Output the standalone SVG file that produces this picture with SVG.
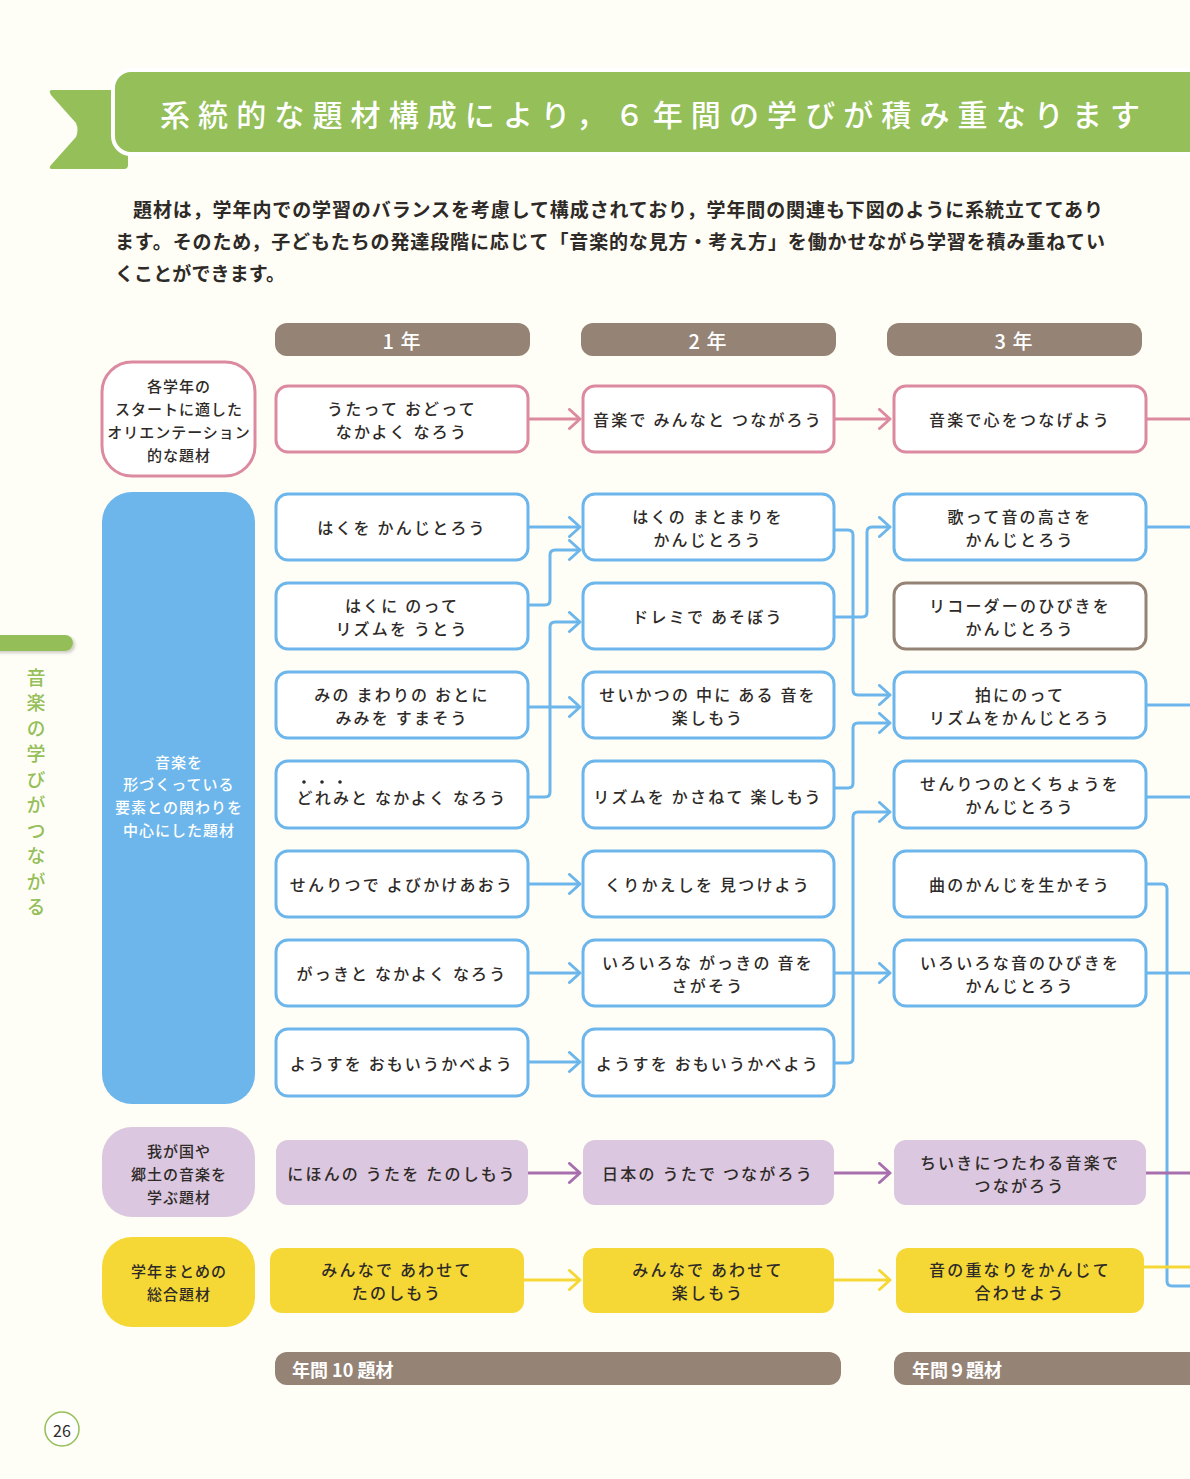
<svg xmlns="http://www.w3.org/2000/svg" width="1190" height="1479" viewBox="0 0 1190 1479">
<defs>
<style>
text{font-family:"Noto Sans CJK JP","Noto Sans",sans-serif;}
.nt{font-size:16px;fill:#2e2a27;letter-spacing:2.2px;text-anchor:middle;dominant-baseline:central;font-weight:500;}
.lt{font-size:15px;fill:#2e2a27;letter-spacing:1px;text-anchor:middle;dominant-baseline:central;font-weight:500;}
.lw{font-size:15px;fill:#ffffff;letter-spacing:1px;text-anchor:middle;dominant-baseline:central;font-weight:500;}
.hd{font-size:20px;fill:#ffffff;text-anchor:middle;dominant-baseline:central;letter-spacing:1px;font-weight:500;}
.bl{fill:#ffffff;stroke:#6cb6eb;stroke-width:3;}
.pk{fill:#ffffff;stroke:#dc8aa0;stroke-width:3;}
.br{fill:#ffffff;stroke:#958376;stroke-width:3;}
.pu{fill:#dbc7df;}
.ye{fill:#f5d836;}
.cb{fill:none;stroke:#6cb6eb;stroke-width:3;marker-end:url(#ab);}
.cb0{fill:none;stroke:#6cb6eb;stroke-width:3;}
.cp{fill:none;stroke:#dc8aa0;stroke-width:3;}
.cu{fill:none;stroke:#a76fae;stroke-width:3;}
.cy{fill:none;stroke:#f5d836;stroke-width:3;}
</style>
<marker id="ab" markerUnits="userSpaceOnUse" markerWidth="16" markerHeight="24" refX="12" refY="11" orient="auto"><path d="M1.5,1.5 L12,11 L1.5,20.5" fill="none" stroke="#6cb6eb" stroke-width="3" stroke-linecap="round" stroke-linejoin="round"/></marker>
<marker id="ap" markerUnits="userSpaceOnUse" markerWidth="16" markerHeight="24" refX="12" refY="11" orient="auto"><path d="M1.5,1.5 L12,11 L1.5,20.5" fill="none" stroke="#dc8aa0" stroke-width="3" stroke-linecap="round" stroke-linejoin="round"/></marker>
<marker id="au" markerUnits="userSpaceOnUse" markerWidth="16" markerHeight="24" refX="12" refY="11" orient="auto"><path d="M1.5,1.5 L12,11 L1.5,20.5" fill="none" stroke="#a76fae" stroke-width="3" stroke-linecap="round" stroke-linejoin="round"/></marker>
<marker id="ay" markerUnits="userSpaceOnUse" markerWidth="16" markerHeight="24" refX="12" refY="11" orient="auto"><path d="M1.5,1.5 L12,11 L1.5,20.5" fill="none" stroke="#f5d836" stroke-width="3" stroke-linecap="round" stroke-linejoin="round"/></marker>
<filter id="sh" x="-10%" y="-50%" width="130%" height="250%"><feDropShadow dx="2" dy="2" stdDeviation="1.5" flood-color="#000" flood-opacity="0.2"/></filter>
</defs>
<rect x="0" y="0" width="1190" height="1479" fill="#fffef6"/>

<!-- title banner -->
<g id="title">
<path d="M52,90 H128 V165 Q128,169 124,169 H52 Q48,169 51,165 L76,137 Q79,130 76,123 L51,95 Q48,90 52,90 Z" fill="#94bf59"/>
<rect x="113" y="70" width="1100" height="84" rx="18" fill="#94bf59" stroke="#ffffff" stroke-width="4"/>
<text x="160" y="113" font-size="30" font-weight="500" fill="#ffffff" dominant-baseline="central" textLength="980" lengthAdjust="spacing">系統的な題材構成により，６年間の学びが積み重なります</text>
</g>

<!-- paragraph -->
<g id="intro" font-size="19" font-weight="700" fill="#2e2a27">
<text x="133" y="208" dominant-baseline="central" textLength="970" lengthAdjust="spacing">題材は，学年内での学習のバランスを考慮して構成されており，学年間の関連も下図のように系統立ててあり</text>
<text x="115" y="240" dominant-baseline="central" textLength="990" lengthAdjust="spacing">ます。そのため，子どもたちの発達段階に応じて「音楽的な見方・考え方」を働かせながら学習を積み重ねてい</text>
<text x="115" y="272" dominant-baseline="central" textLength="170" lengthAdjust="spacing">くことができます。</text>
</g>

<!-- side label -->
<g id="side">
<rect x="-12" y="635" width="85" height="16" rx="8" fill="#94bf59" filter="url(#sh)"/>
<text x="36" y="668" font-size="19" font-weight="500" fill="#94bf59" style="writing-mode:vertical-rl;letter-spacing:6.5px">音楽の学びがつながる</text>
</g>

<!-- year headers -->
<g id="y1"><rect x="275" y="323" width="255" height="33" rx="12" fill="#958376"/><text class="hd" x="402" y="340">1 年</text></g>
<g id="y2"><rect x="581" y="323" width="255" height="33" rx="12" fill="#958376"/><text class="hd" x="708" y="340">2 年</text></g>
<g id="y3"><rect x="887" y="323" width="255" height="33" rx="12" fill="#958376"/><text class="hd" x="1014" y="340">3 年</text></g>

<!-- left category labels -->
<g id="cat-orient"><rect class="pk" x="102" y="362" width="153" height="114" rx="30"/>
<text class="lt" x="179" y="385">各学年の</text><text class="lt" x="179" y="408">スタートに適した</text><text class="lt" x="179" y="431">オリエンテーション</text><text class="lt" x="179" y="454">的な題材</text></g>
<g id="cat-element"><rect x="102" y="492" width="153" height="612" rx="30" fill="#6cb6eb"/>
<text class="lw" x="179" y="761">音楽を</text><text class="lw" x="179" y="783">形づくっている</text><text class="lw" x="179" y="806">要素との関わりを</text><text class="lw" x="179" y="829">中心にした題材</text></g>
<g id="cat-japan"><rect x="102" y="1127" width="153" height="90" rx="30" fill="#dbc7df"/>
<text class="lt" x="179" y="1150">我が国や</text><text class="lt" x="179" y="1173">郷土の音楽を</text><text class="lt" x="179" y="1196">学ぶ題材</text></g>
<g id="cat-summary"><rect x="102" y="1237" width="153" height="90" rx="30" fill="#f5d836"/>
<text class="lt" x="179" y="1270">学年まとめの</text><text class="lt" x="179" y="1293">総合題材</text></g>

<!-- connectors -->
<g id="connectors">
<path class="cp" d="M528,419 H580" marker-end="url(#ap)"/>
<path class="cp" d="M834,419 H890" marker-end="url(#ap)"/>
<path class="cp" d="M1146,419 H1190"/>

<path class="cb" d="M528,527 H580"/>
<path class="cb" d="M528,605 H545 Q550,605 550,600 V555 Q550,550 555,550 H580"/>
<path class="cb" d="M528,797 H545 Q550,797 550,792 V627 Q550,622 555,622 H580"/>
<path class="cb" d="M528,707 H580"/>
<path class="cb" d="M528,884 H580"/>
<path class="cb" d="M528,973 H580"/>
<path class="cb" d="M528,1062 H580"/>

<path class="cb" d="M834,530 H848 Q853,530 853,535 V690 Q853,695 858,695 H890"/>
<path class="cb" d="M834,617 H862 Q867,617 867,612 V532 Q867,527 872,527 H890"/>
<path class="cb" d="M834,788 H848 Q853,788 853,783 V728 Q853,723 858,723 H890"/>
<path class="cb" d="M834,1063 H848 Q853,1063 853,1058 V817 Q853,812 858,812 H890"/>
<path class="cb" d="M834,973 H890"/>

<path class="cb0" d="M1146,527 H1190"/>
<path class="cb0" d="M1146,705 H1190"/>
<path class="cb0" d="M1146,797 H1190"/>
<path class="cb0" d="M1146,884 H1162 Q1167,884 1167,889 V1281 Q1167,1286 1172,1286 H1190"/>
<path class="cb0" d="M1146,973 H1190"/>

<path class="cu" d="M528,1173 H580" marker-end="url(#au)"/>
<path class="cu" d="M834,1173 H890" marker-end="url(#au)"/>
<path class="cu" d="M1146,1173 H1190"/>

<path class="cy" d="M524,1280 H580" marker-end="url(#ay)"/>
<path class="cy" d="M834,1280 H890" marker-end="url(#ay)"/>
<path class="cy" d="M1144,1267 H1190"/>
</g>

<!-- orientation row -->
<g id="o1"><rect class="pk" x="276" y="386" width="252" height="66" rx="12"/><text class="nt" x="402" y="408">うたって おどって</text><text class="nt" x="402" y="431">なかよく なろう</text></g>
<g id="o2"><rect class="pk" x="583" y="386" width="251" height="66" rx="12"/><text class="nt" x="708" y="419">音楽で みんなと つながろう</text></g>
<g id="o3"><rect class="pk" x="894" y="386" width="252" height="66" rx="12"/><text class="nt" x="1020" y="419">音楽で心をつなげよう</text></g>

<!-- grade 1 -->
<g id="a1"><rect class="bl" x="276" y="494" width="252" height="66" rx="12"/><text class="nt" x="402" y="527">はくを かんじとろう</text></g>
<g id="a2"><rect class="bl" x="276" y="583" width="252" height="66" rx="12"/><text class="nt" x="402" y="605">はくに のって</text><text class="nt" x="402" y="628">リズムを うとう</text></g>
<g id="a3"><rect class="bl" x="276" y="672" width="252" height="66" rx="12"/><text class="nt" x="402" y="694">みの まわりの おとに</text><text class="nt" x="402" y="717">みみを すまそう</text></g>
<g id="a4"><rect class="bl" x="276" y="761" width="252" height="67" rx="12"/><text class="nt" x="402" y="797">どれみと なかよく なろう</text>
<circle cx="304" cy="782" r="1.8" fill="#2e2a27"/><circle cx="322" cy="782" r="1.8" fill="#2e2a27"/><circle cx="340" cy="782" r="1.8" fill="#2e2a27"/></g>
<g id="a5"><rect class="bl" x="276" y="851" width="252" height="66" rx="12"/><text class="nt" x="402" y="884">せんりつで よびかけあおう</text></g>
<g id="a6"><rect class="bl" x="276" y="940" width="252" height="66" rx="12"/><text class="nt" x="402" y="973">がっきと なかよく なろう</text></g>
<g id="a7"><rect class="bl" x="276" y="1029" width="252" height="67" rx="12"/><text class="nt" x="402" y="1063">ようすを おもいうかべよう</text></g>

<!-- grade 2 -->
<g id="b1"><rect class="bl" x="583" y="494" width="251" height="66" rx="12"/><text class="nt" x="708" y="516">はくの まとまりを</text><text class="nt" x="708" y="539">かんじとろう</text></g>
<g id="b2"><rect class="bl" x="583" y="583" width="251" height="66" rx="12"/><text class="nt" x="708" y="616">ドレミで あそぼう</text></g>
<g id="b3"><rect class="bl" x="583" y="672" width="251" height="66" rx="12"/><text class="nt" x="708" y="694">せいかつの 中に ある 音を</text><text class="nt" x="708" y="717">楽しもう</text></g>
<g id="b4"><rect class="bl" x="583" y="761" width="251" height="67" rx="12"/><text class="nt" x="708" y="796">リズムを かさねて 楽しもう</text></g>
<g id="b5"><rect class="bl" x="583" y="851" width="251" height="66" rx="12"/><text class="nt" x="708" y="884">くりかえしを 見つけよう</text></g>
<g id="b6"><rect class="bl" x="583" y="940" width="251" height="66" rx="12"/><text class="nt" x="708" y="962">いろいろな がっきの 音を</text><text class="nt" x="708" y="985">さがそう</text></g>
<g id="b7"><rect class="bl" x="583" y="1029" width="251" height="67" rx="12"/><text class="nt" x="708" y="1063">ようすを おもいうかべよう</text></g>

<!-- grade 3 -->
<g id="c1"><rect class="bl" x="894" y="494" width="252" height="66" rx="12"/><text class="nt" x="1020" y="516">歌って音の高さを</text><text class="nt" x="1020" y="539">かんじとろう</text></g>
<g id="c2"><rect class="br" x="894" y="583" width="252" height="66" rx="12"/><text class="nt" x="1020" y="605">リコーダーのひびきを</text><text class="nt" x="1020" y="628">かんじとろう</text></g>
<g id="c3"><rect class="bl" x="894" y="672" width="252" height="66" rx="12"/><text class="nt" x="1020" y="694">拍にのって</text><text class="nt" x="1020" y="717">リズムをかんじとろう</text></g>
<g id="c4"><rect class="bl" x="894" y="761" width="252" height="67" rx="12"/><text class="nt" x="1020" y="783">せんりつのとくちょうを</text><text class="nt" x="1020" y="806">かんじとろう</text></g>
<g id="c5"><rect class="bl" x="894" y="851" width="252" height="66" rx="12"/><text class="nt" x="1020" y="884">曲のかんじを生かそう</text></g>
<g id="c6"><rect class="bl" x="894" y="940" width="252" height="66" rx="12"/><text class="nt" x="1020" y="962">いろいろな音のひびきを</text><text class="nt" x="1020" y="985">かんじとろう</text></g>

<!-- Japanese music row -->
<g id="j1"><rect class="pu" x="276" y="1140" width="252" height="65" rx="12"/><text class="nt" x="402" y="1173">にほんの うたを たのしもう</text></g>
<g id="j2"><rect class="pu" x="583" y="1140" width="251" height="65" rx="12"/><text class="nt" x="708" y="1173">日本の うたで つながろう</text></g>
<g id="j3"><rect class="pu" x="894" y="1140" width="252" height="65" rx="12"/><text class="nt" x="1020" y="1162">ちいきにつたわる音楽で</text><text class="nt" x="1020" y="1185">つながろう</text></g>

<!-- summary row -->
<g id="s1"><rect class="ye" x="270" y="1248" width="254" height="65" rx="12"/><text class="nt" x="397" y="1269">みんなで あわせて</text><text class="nt" x="397" y="1292">たのしもう</text></g>
<g id="s2"><rect class="ye" x="583" y="1248" width="251" height="65" rx="12"/><text class="nt" x="708" y="1269">みんなで あわせて</text><text class="nt" x="708" y="1292">楽しもう</text></g>
<g id="s3"><rect class="ye" x="896" y="1248" width="248" height="65" rx="12"/><text class="nt" x="1020" y="1269">音の重なりをかんじて</text><text class="nt" x="1020" y="1292">合わせよう</text></g>

<!-- totals -->
<g id="t1"><rect x="275" y="1352" width="566" height="33" rx="12" fill="#958376"/><text x="292" y="1369" font-size="18" font-weight="700" fill="#ffffff" dominant-baseline="central">年間 10 題材</text></g>
<g id="t2"><rect x="894" y="1352" width="320" height="33" rx="12" fill="#958376"/><text x="912" y="1369" font-size="18" font-weight="700" fill="#ffffff" dominant-baseline="central">年間９題材</text></g>

<!-- page number -->
<g id="page"><circle cx="62" cy="1429" r="17" fill="#ffffff" stroke="#94bf59" stroke-width="1.5"/><text x="62" y="1430" font-size="16" fill="#2e2a27" text-anchor="middle" dominant-baseline="central">26</text></g>
</svg>
